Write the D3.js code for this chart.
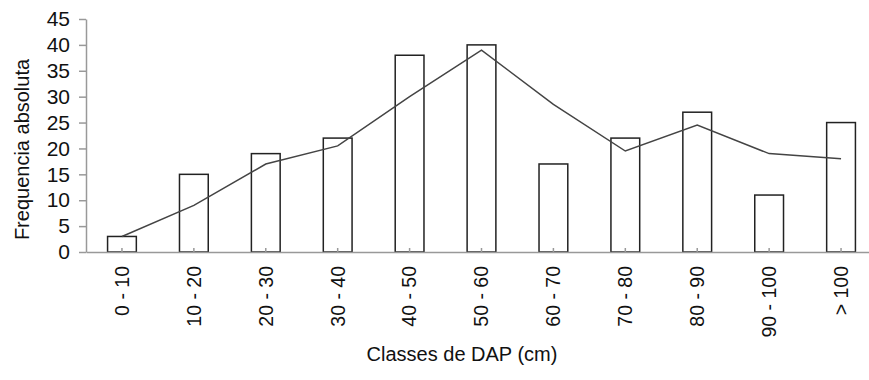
<!DOCTYPE html>
<html>
<head>
<meta charset="utf-8">
<script src="https://cdn.jsdelivr.net/npm/d3@7"></script>
<style>
  html, body { margin: 0; padding: 0; background: #fff; }
  svg { display: block; }
  text { font-family: "Liberation Sans", Arial, sans-serif; fill: #111; }
</style>
</head>
<body>
<svg id="chart" width="869" height="380"></svg>
<script>
const categories = ["0 - 10", "10 - 20", "20 - 30", "30 - 40", "40 - 50", "50 - 60", "60 - 70", "70 - 80", "80 - 90", "90 - 100", "> 100"];
const barValues = [3, 15, 19, 22, 38, 40, 17, 22, 27, 11, 25];
const lineValues = [3, 9, 17, 20.5, 30, 39, 28.5, 19.5, 24.5, 19, 18];
const yTicks = [0, 5, 10, 15, 20, 25, 30, 35, 40, 45];
const yTitle = "Frequencia absoluta";
const xTitle = "Classes de DAP (cm)";

const svg = d3.select("#chart");
const mLeft = 86, mRight = 877, mTop = 19, mBottom = 252;

const x = d3.scaleBand().domain(categories).range([mLeft, mRight]).paddingInner(0.6).paddingOuter(0.3);
const y = d3.scaleLinear().domain([0, 45]).range([mBottom, mTop]);

// bars
svg.append("g").selectAll("rect").data(barValues).join("rect")
  .attr("x", (d, i) => x(categories[i]))
  .attr("y", d => y(d))
  .attr("width", x.bandwidth())
  .attr("height", d => y(0) - y(d))
  .attr("fill", "#fff")
  .attr("stroke", "#222")
  .attr("stroke-width", 1.5);

// y axis
const yAxis = svg.append("g").attr("transform", `translate(${mLeft},0)`)
  .call(d3.axisLeft(y).tickValues(yTicks).tickSize(7).tickPadding(9).tickSizeOuter(0));
yAxis.select(".domain").attr("stroke", "#999").attr("stroke-width", 1.5);
yAxis.selectAll(".tick line").attr("stroke", "#999").attr("stroke-width", 1.5);
yAxis.selectAll(".tick text").style("font-size", "21px").attr("fill", "#111")
  .style("font-family", '"Liberation Sans", Arial, sans-serif');

// x axis
const xAxis = svg.append("g").attr("transform", `translate(0,${mBottom})`)
  .call(d3.axisBottom(x).tickSize(-4).tickSizeOuter(0).tickPadding(0));
xAxis.select(".domain").attr("stroke", "#999").attr("stroke-width", 1.5);
xAxis.selectAll(".tick line").attr("stroke", "#999").attr("stroke-width", 1.5);
xAxis.selectAll(".tick text")
  .style("font-size", "19.5px").attr("fill", "#111")
  .style("font-family", '"Liberation Sans", Arial, sans-serif')
  .attr("text-anchor", "end")
  .attr("transform", "rotate(-90)")
  .attr("x", -14)
  .attr("y", 0)
  .attr("dy", "0.35em");

// line
const line = d3.line()
  .x((d, i) => x(categories[i]) + x.bandwidth() / 2)
  .y(d => y(d));
svg.append("path").datum(lineValues)
  .attr("d", line)
  .attr("fill", "none")
  .attr("stroke", "#444")
  .attr("stroke-width", 1.5);

// titles
svg.append("text")
  .attr("transform", `translate(22,${(62 + 237) / 2}) rotate(-90)`)
  .attr("text-anchor", "middle")
  .attr("dy", "0.35em")
  .style("font-size", "20px")
  .text(yTitle);

svg.append("text")
  .attr("x", 462)
  .attr("y", 361)
  .attr("text-anchor", "middle")
  .style("font-size", "20px")
  .text(xTitle);
</script>
</body>
</html>
